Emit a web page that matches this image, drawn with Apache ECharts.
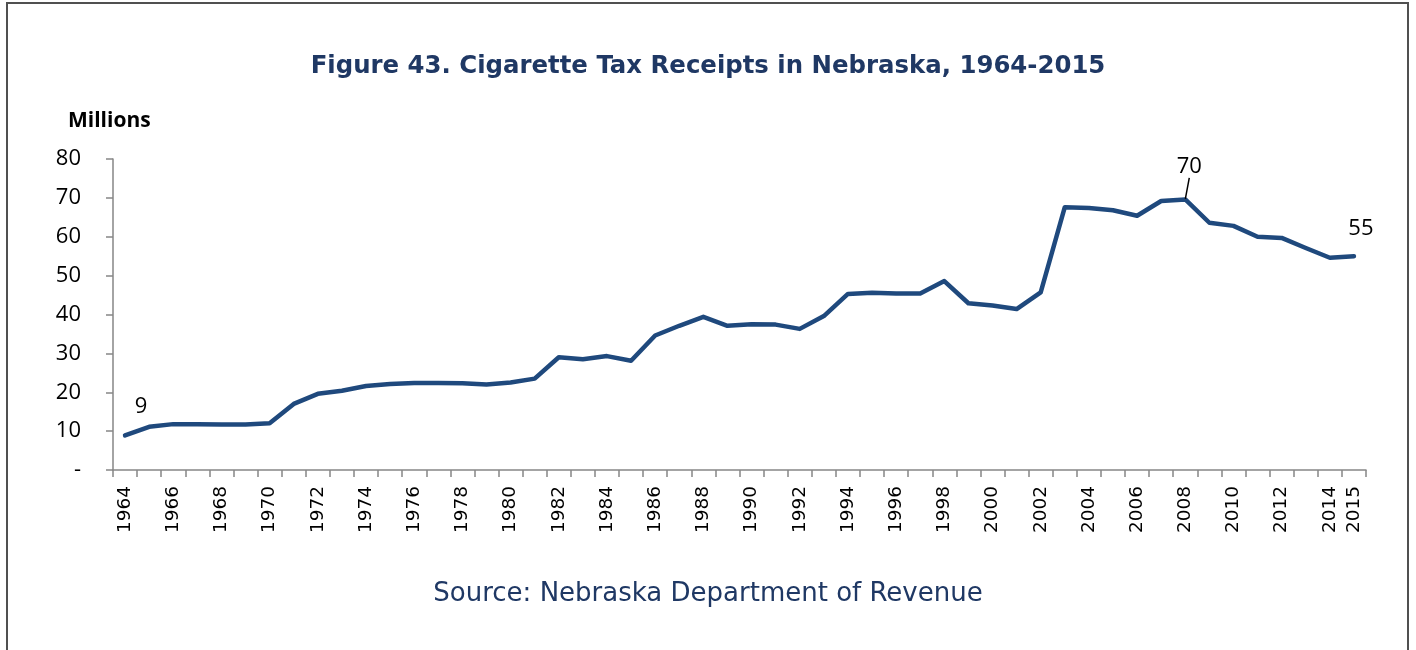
<!DOCTYPE html>
<html>
<head>
<meta charset="utf-8">
<script src="https://cdn.jsdelivr.net/npm/echarts@6/dist/echarts.min.js"></script>
<style>
html,body{margin:0;padding:0;background:#fff;}
#chart{width:1416px;height:650px;}
</style>
</head>
<body>
<div id="chart"></div>
<script>
const years = ['1964','1965','1966','1967','1968','1969','1970','1971','1972','1973','1974','1975','1976','1977','1978','1979','1980','1981','1982','1983','1984','1985','1986','1987','1988','1989','1990','1991','1992','1993','1994','1995','1996','1997','1998','1999','2000','2001','2002','2003','2004','2005','2006','2007','2008','2009','2010','2011','2012','2013','2014','2015'];
const receipts = [8.9,11.1,11.8,11.8,11.7,11.7,12.0,17.0,19.6,20.4,21.6,22.1,22.4,22.4,22.3,22.0,22.5,23.5,29.0,28.5,29.3,28.1,34.6,37.1,39.4,37.1,37.5,37.4,36.3,39.6,45.3,45.6,45.4,45.4,48.6,42.9,42.3,41.4,45.7,67.6,67.4,66.8,65.4,69.2,69.6,63.6,62.8,60.0,59.7,57.1,54.6,55.0];
const yTicks = [0,10,20,30,40,50,60,70,80];
const labelled = {0:'9', 44:'70', 51:'55'};
const labelShift = {0:[16,-12], 44:[4,-16], 51:[7,-11]};

const chart = echarts.init(document.getElementById('chart'));
chart.setOption({
  animation:false,
  backgroundColor:'#fff',
  title:[
    {text:'Figure 43. Cigarette Tax Receipts in Nebraska, 1964-2015', left:'center', top:50,
     textStyle:{fontFamily:'DejaVu Sans', fontWeight:'bold', fontSize:24.4, color:'#1F3864'}},
    {text:'Millions', left:63, top:106,
     textStyle:{fontFamily:'Open Sans', fontWeight:'bold', fontSize:21, color:'#000'}},
    {text:'Source: Nebraska Department of Revenue', left:'center', top:576,
     textStyle:{fontFamily:'DejaVu Sans', fontWeight:'normal', fontSize:26, color:'#1F3864'}}
  ],
  graphic:[{type:'rect', shape:{x:7,y:3,width:1401,height:700}, style:{fill:'none', stroke:'#505050', lineWidth:2}, silent:true}],
  grid:{left:113, right:50, top:159, bottom:180, containLabel:false},
  xAxis:{
    type:'category', data:years, boundaryGap:true,
    axisLine:{lineStyle:{color:'#868686', width:1.5}},
    axisTick:{show:true, interval:0, length:7, lineStyle:{color:'#868686', width:1.5}},
    axisLabel:{rotate:90, fontFamily:'DejaVu Sans', fontSize:18.5, color:'#000', margin:16,
      interval:0,
      formatter:function(v, i){ return (i%2===0 || i===years.length-1) ? v : ''; }}
  },
  yAxis:{
    type:'value', min:0, max:80, interval:10,
    axisLine:{show:true, lineStyle:{color:'#868686', width:1.5}},
    axisTick:{show:true, length:7, lineStyle:{color:'#868686', width:1.5}},
    splitLine:{show:false},
    axisLabel:{fontFamily:'Open Sans', fontSize:22, color:'#000', margin:32,
      formatter:function(v){ return yTicks.indexOf(v)>=0 ? (v===0 ? '-' : String(v)) : ''; }}
  },
  series:[{
    type:'line',
    data:receipts.map(function(v,i){
      const o = {value:v};
      if (labelled[i]) {
        o.label = {show:true, formatter:labelled[i], position:'top', distance:5,
          fontFamily:'Open Sans', fontSize:22, color:'#000', opacity:1};
        if (i===44) o.labelLine = {show:true, lineStyle:{color:'#000', width:1.5}};
      }
      return o;
    }),
    showSymbol:true, symbol:'circle', symbolSize:1,
    itemStyle:{color:'rgba(31,73,125,0)', borderWidth:0},
    lineStyle:{color:'#1F497D', width:4.5, cap:'round', join:'round'},
    label:{show:false},
    labelLine:{show:false},
    labelLayout:function(p){
      const s = labelShift[p.dataIndex];
      return s ? {dx:s[0], dy:s[1]} : {};
    },
    z:5
  }]
});
</script>
</body>
</html>
